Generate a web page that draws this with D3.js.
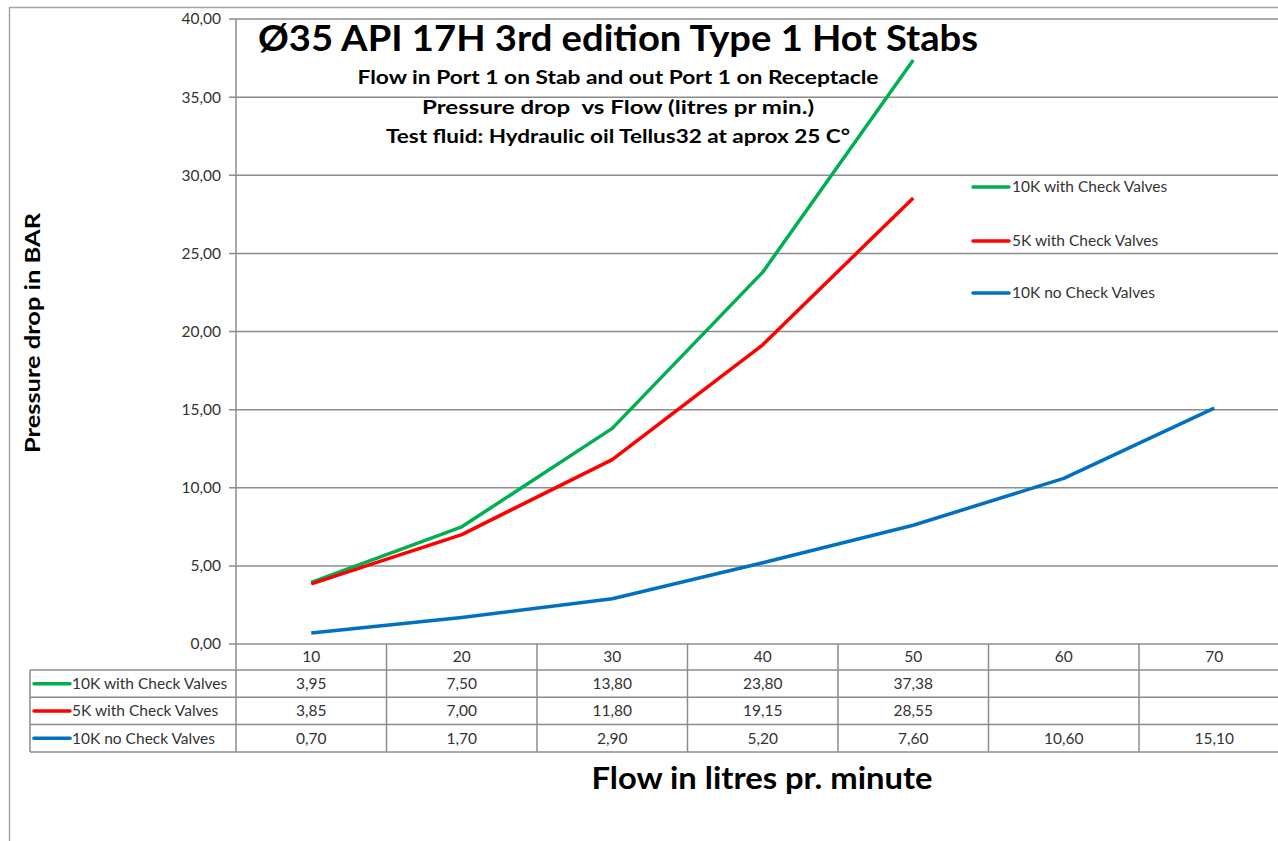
<!DOCTYPE html>
<html>
<head>
<meta charset="utf-8">
<script src="https://cdn.jsdelivr.net/npm/d3@7"></script>
<style>
  body { margin: 0; background: #fff; }
  svg { display: block; font-family: Lato, 'Open Sans', sans-serif; }
</style>
</head>
<body>
<div id="chart"></div>
<script>
// chart data
const flows = [10, 20, 30, 40, 50, 60, 70];
const withCheck10k = [3.95, 7.50, 13.80, 23.80, 37.38, null, null];
const withCheck5k = [3.85, 7.00, 11.80, 19.15, 28.55, null, null];
const noCheck10k = [0.70, 1.70, 2.90, 5.20, 7.60, 10.60, 15.10];
const seriesNames = ['10K with Check Valves', '5K with Check Valves', '10K no Check Valves'];
const yTicks = [0, 5, 10, 15, 20, 25, 30, 35, 40];

const colors = ['#00b050', '#ff0000', '#0070c0'];
const seriesValues = [withCheck10k, withCheck5k, noCheck10k];

function draw () {
  const svgWidth = 1278;
  const svgHeight = 841;
  const plot = { left: 236, top: 19, bottom: 644, colWidth: 150.5 };
  const gridColor = '#8c8c8c';
  const textColor = '#333';
  const smallSize = 15.5;
  const rowH = 27.3;

  const nf = d3.formatLocale({ decimal: ',', thousands: '.', grouping: [3], currency: ['', ''] }).format('.2f');

  const svg = d3.select('#chart')
    .append('svg')
    .attr('width', svgWidth)
    .attr('height', svgHeight);

  // outer frame (only top and left visible)
  svg.append('path')
    .attr('d', `M9.5,${svgHeight} V7.5 H${svgWidth}`)
    .attr('fill', 'none')
    .attr('stroke', '#a6a6a6')
    .attr('stroke-width', 1.5);

  const x = d3.scaleBand()
    .domain(flows)
    .range([plot.left, plot.left + flows.length * plot.colWidth])
    .paddingInner(0).paddingOuter(0);
  const y = d3.scaleLinear().domain([0, 40]).range([plot.bottom, plot.top]);
  const cx = d => x(d) + x.bandwidth() / 2;

  // gridlines
  svg.append('g')
    .selectAll('line')
    .data(yTicks)
    .join('line')
    .attr('x1', plot.left - 7)
    .attr('x2', svgWidth)
    .attr('y1', d => y(d))
    .attr('y2', d => y(d))
    .attr('stroke', gridColor)
    .attr('stroke-width', 1.5);

  // y tick labels
  svg.append('g')
    .selectAll('text')
    .data(yTicks)
    .join('text')
    .attr('x', plot.left - 15)
    .attr('y', d => y(d))
    .attr('dy', '0.35em')
    .attr('text-anchor', 'end')
    .attr('font-size', smallSize)
    .attr('fill', textColor)
    .text(d => nf(d));

  // y axis line, continues into table header
  const tableTop = plot.bottom;
  const rowLines = d3.range(4).map(i => tableTop + 26 + i * rowH);
  svg.append('line')
    .attr('x1', plot.left).attr('x2', plot.left)
    .attr('y1', plot.top).attr('y2', rowLines[3])
    .attr('stroke', gridColor).attr('stroke-width', 1.5);

  // data table
  const table = svg.append('g');
  table.selectAll('line.row')
    .data(rowLines)
    .join('line')
    .attr('class', 'row')
    .attr('x1', 30).attr('x2', svgWidth)
    .attr('y1', d => d).attr('y2', d => d)
    .attr('stroke', gridColor).attr('stroke-width', 1.5);
  table.append('line')
    .attr('x1', 30).attr('x2', 30)
    .attr('y1', rowLines[0]).attr('y2', rowLines[3])
    .attr('stroke', gridColor).attr('stroke-width', 1.5);
  table.selectAll('line.col')
    .data(flows.slice(1).concat(['end']))
    .join('line')
    .attr('class', 'col')
    .attr('x1', (d, i) => plot.left + (i + 1) * plot.colWidth)
    .attr('x2', (d, i) => plot.left + (i + 1) * plot.colWidth)
    .attr('y1', tableTop).attr('y2', rowLines[3])
    .attr('stroke', gridColor).attr('stroke-width', 1.5);

  // category labels
  table.selectAll('text.cat')
    .data(flows)
    .join('text')
    .attr('class', 'cat')
    .attr('x', d => cx(d))
    .attr('y', (tableTop + rowLines[0]) / 2)
    .attr('dy', '0.35em')
    .attr('text-anchor', 'middle')
    .attr('font-size', smallSize)
    .attr('fill', textColor)
    .text(d => d);

  seriesValues.forEach((vals, si) => {
    const rowMid = (rowLines[si] + rowLines[si + 1]) / 2;
    table.append('line')
      .attr('x1', 34).attr('x2', 70)
      .attr('y1', rowMid).attr('y2', rowMid)
      .attr('stroke', colors[si]).attr('stroke-width', 3.5)
      .attr('stroke-linecap', 'round');
    table.append('text')
      .attr('x', 72).attr('y', rowMid).attr('dy', '0.35em')
      .attr('font-size', smallSize).attr('fill', textColor)
      .text(seriesNames[si]);
    table.selectAll(null)
      .data(flows.map((f, i) => ({ f, v: vals[i] })).filter(d => d.v != null))
      .join('text')
      .attr('x', d => cx(d.f))
      .attr('y', rowMid).attr('dy', '0.35em')
      .attr('text-anchor', 'middle')
      .attr('font-size', smallSize).attr('fill', textColor)
      .text(d => nf(d.v));
  });

  // series lines
  const line = d3.line()
    .defined(d => d.v != null)
    .x(d => cx(d.f))
    .y(d => y(d.v));
  seriesValues.forEach((vals, si) => {
    svg.append('path')
      .datum(flows.map((f, i) => ({ f, v: vals[i] })))
      .attr('fill', 'none')
      .attr('stroke', colors[si])
      .attr('stroke-width', 3.5)
      .attr('stroke-linejoin', 'round')
      .attr('d', line);
  });

  // legend
  const legendY = [187, 241, 293];
  seriesNames.forEach((name, i) => {
    svg.append('line')
      .attr('x1', 973).attr('x2', 1009)
      .attr('y1', legendY[i]).attr('y2', legendY[i])
      .attr('stroke', colors[i]).attr('stroke-width', 3.5)
      .attr('stroke-linecap', 'round');
    svg.append('text')
      .attr('x', 1012).attr('y', legendY[i]).attr('dy', '0.35em')
      .attr('font-size', smallSize).attr('fill', textColor)
      .text(name);
  });

  // titles
  const titles = [
    { text: 'Ø35 API 17H 3rd edition Type 1 Hot Stabs', y: 51, size: 36, w: 720 },
    { text: 'Flow in Port 1 on Stab and out Port 1 on Receptacle', y: 84, size: 19, w: 521 },
    { text: 'Pressure drop  vs Flow (litres pr min.)', y: 114, size: 19, w: 392 },
    { text: 'Test fluid: Hydraulic oil Tellus32 at aprox 25 C°', y: 143, size: 19, w: 464 }
  ];
  svg.append('g')
    .selectAll('text')
    .data(titles)
    .join('text')
    .attr('x', 618)
    .attr('y', d => d.y)
    .attr('text-anchor', 'middle')
    .attr('font-weight', 'bold')
    .attr('font-size', d => d.size)
    .attr('fill', '#000')
    .attr('textLength', d => d.w)
    .attr('lengthAdjust', 'spacingAndGlyphs')
    .style('white-space', 'pre')
    .text(d => d.text);

  // axis titles
  svg.append('text')
    .attr('transform', 'translate(40, 333) rotate(-90)')
    .attr('text-anchor', 'middle')
    .attr('font-weight', 'bold')
    .attr('font-size', 21)
    .attr('textLength', 240)
    .attr('lengthAdjust', 'spacingAndGlyphs')
    .text('Pressure drop in BAR');

  svg.append('text')
    .attr('x', 762)
    .attr('y', 789)
    .attr('text-anchor', 'middle')
    .attr('font-weight', 'bold')
    .attr('font-size', 30)
    .attr('textLength', 341)
    .attr('lengthAdjust', 'spacingAndGlyphs')
    .text('Flow in litres pr. minute');
}
draw();
</script>
</body>
</html>
